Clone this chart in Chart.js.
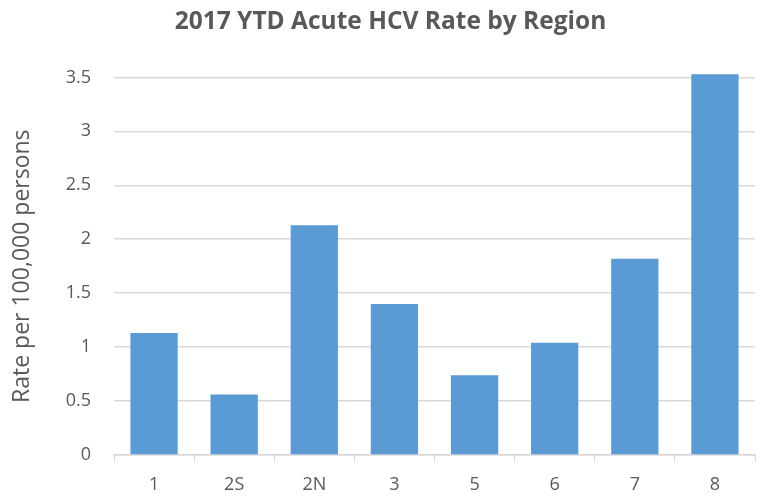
<!DOCTYPE html>
<html>
<head>
<meta charset="utf-8">
<script src="https://cdn.jsdelivr.net/npm/chart.js@4"></script>
<style>
  html, body { margin: 0; padding: 0; background: #fff; }
  #wrap { width: 762px; height: 502px; }
</style>
</head>
<body>
<div id="wrap"><canvas id="hcvChart"></canvas></div>
<script>
const regions = ['1', '2S', '2N', '3', '5', '6', '7', '8'];
const rates = [1.13, 0.56, 2.13, 1.40, 0.74, 1.04, 1.82, 3.53];

const fontFamily = "'Open Sans', 'Liberation Sans', sans-serif";
const grey = '#595959';

new Chart(document.getElementById('hcvChart'), {
    type: 'bar',
    data: {
        labels: regions,
        datasets: [{
            data: rates,
            backgroundColor: '#5b9bd5',
            borderWidth: 0,
            barPercentage: 0.59,
            categoryPercentage: 1,
            clip: false
        }]
    },
    options: {
        responsive: true,
        maintainAspectRatio: false,
        animation: false,
        layout: { padding: { left: 26, right: 7, top: 4, bottom: 0 } },
        plugins: {
            legend: { display: false },
            tooltip: { enabled: false },
            title: {
                display: true,
                text: '2017 YTD Acute HCV Rate by Region',
                color: grey,
                font: { family: fontFamily, size: 24.5, weight: 'bold' },
                padding: { top: 3, bottom: 41 }
            }
        },
        scales: {
            x: {
                grid: { drawOnChartArea: false, color: '#d9d9d9', tickLength: 7 },
                border: { color: '#d9d9d9', width: 1.5 },
                ticks: { color: grey, font: { family: fontFamily, size: 18 }, padding: 12 },
                afterFit: s => { s.height = 47; }
            },
            y: {
                min: 0,
                max: 3.5,
                ticks: {
                    stepSize: 0.5,
                    color: grey,
                    font: { family: fontFamily, size: 18 },
                    padding: 23,
                    callback: v => String(v)
                },
                grid: { color: '#d9d9d9', lineWidth: 1.5, drawTicks: false },
                border: { display: false },
                title: {
                    display: true,
                    text: 'Rate per 100,000 persons',
                    color: grey,
                    font: { family: fontFamily, size: 23 },
                    padding: { top: -17, bottom: 0 }
                },
                afterFit: s => { s.width = 88; }
            }
        }
    }
});
</script>
</body>
</html>
